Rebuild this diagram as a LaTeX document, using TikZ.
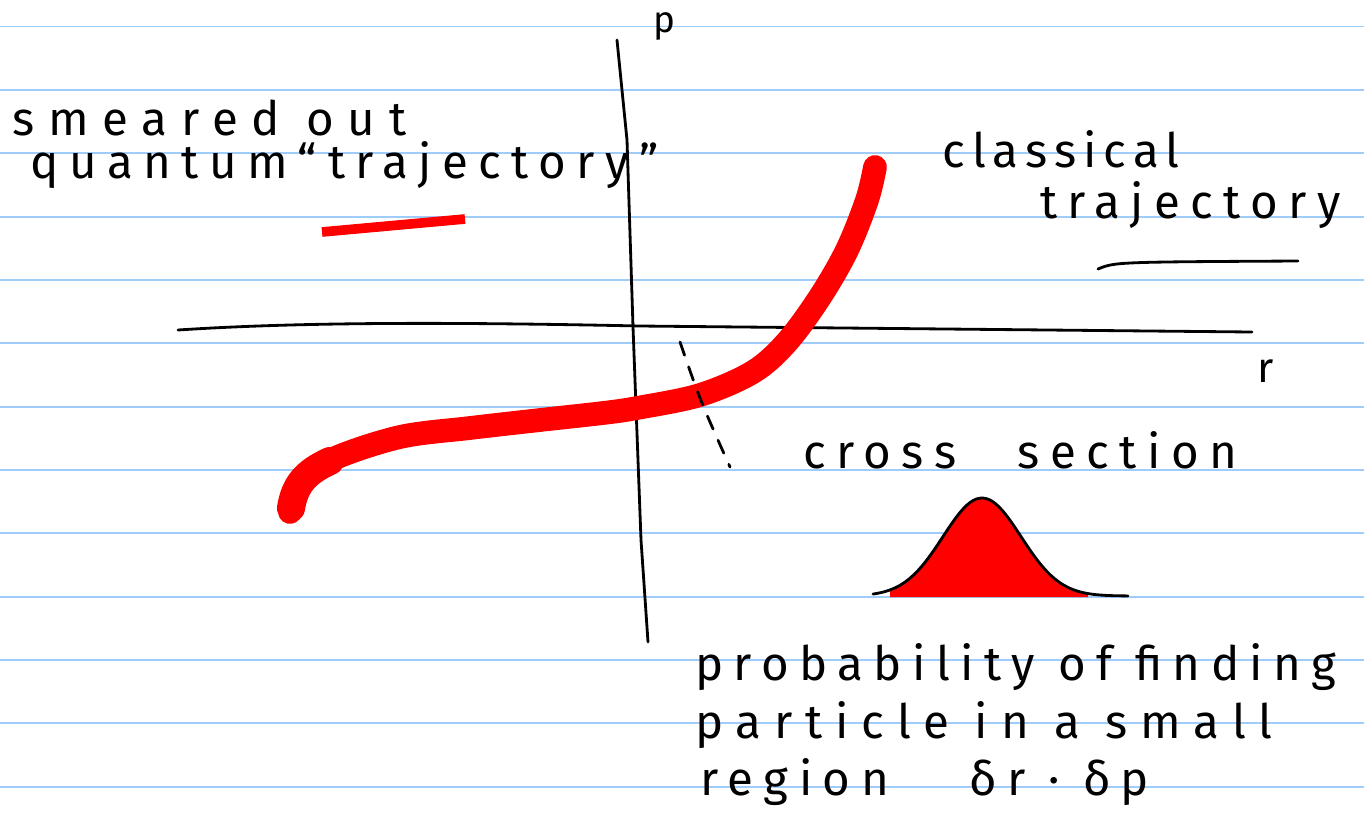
\documentclass[tikz,border=0pt]{standalone}
\usepackage{fontspec}
\setmainfont{Fira Sans}[LetterSpace=22]
\usepackage{tikz}
\usetikzlibrary{positioning}
\tikzset{
    ruling/.style = {draw={rgb,255:red,160;green,204;blue,250}, line width=1.1pt},
    pen/.style = {draw, line width=1.6pt, line cap=round, line join=round},
    smear/.style = {draw=red, line width=13.5pt, line cap=round, line join=round},
    note/.style = {font=\fontsize{27}{32}\selectfont, anchor=base west, inner sep=0pt},
}
\begin{document}
\begin{tikzpicture}[x=0.02cm, y=-0.02cm]
                \useasboundingbox (0,0) rectangle (1364,822);
                \foreach \k in {0,...,12}
                    \draw[ruling] (0,{26.5+63.35*\k}) -- (1364,{26.5+63.35*\k});

                \coordinate (ptop) at (617, 40);
                \coordinate (pbot) at (648, 642);
                \coordinate (rleft) at (178, 330);
                \coordinate (rright) at (1252, 332);
                \node[note, anchor=base, font=\fontsize{21}{24}\selectfont] (p) at (664, 32) {p};
                \node[note, anchor=base, font=\fontsize{24}{28}\selectfont] (r) at (1266, 382) {r};

                \draw[pen] (ptop) -- (627, 140) -- (633, 327) -- (641, 540) -- (pbot);
                \draw[pen] (rleft) .. controls (300, 322) and (450, 322) .. (640, 326) -- (rright);

                \coordinate (qstart) at (290, 512);
                \coordinate (qend) at (875, 167);
                \draw[smear] plot[smooth, tension=0.55] coordinates {(qstart) (302, 482) (333, 459) (400, 437)
                    (470, 428) (540, 420) (603, 413) (637, 408) (700, 395) (753, 372) (787, 342)
                    (820, 297) (847, 250) (867, 200) (qend)};
                \draw[smear, line width=16pt] (291, 508) .. controls (295, 484) and (306, 472) .. (330, 461);
                \draw[pen, dash pattern=on 8pt off 7pt] (680, 342) .. controls (700, 400) .. (730, 467);

                \node[note] (smeared) at (12, 135) {\addfontfeature{LetterSpace=29}smeared out};
                \node[note] (quantum) at (30, 178) {quantum``trajectory''};
                \coordinate (qkey1) at (322, 232);
                \coordinate (qkey2) at (465, 219);
                \draw[smear, line width=5.5pt, line cap=butt] (qkey1) -- (qkey2);

                \node[note] (classical) at (942, 167) {\addfontfeature{LetterSpace=15}classical};
                \node[note] (trajectory) at (1040, 218) {trajectory};
                \coordinate (ckey1) at (1098, 269);
                \coordinate (ckey2) at (1298, 261);
                \draw[pen] (ckey1) .. controls (1115, 262) .. (ckey2);

                \node[note] (cross) at (803, 468) {cross\hspace{1.3em}section};
                \fill[red] (890, 597) -- plot[domain=890:1088, samples=60]
                    (\x, {596-98*exp(-((\x-982)/39)*((\x-982)/39)/2)}) -- (1088, 597) -- cycle;
                \draw[pen] plot[domain=873:1128, samples=80]
                    (\x, {596-98*exp(-((\x-982)/39)*((\x-982)/39)/2)});

                \node[note] (prob1) at (695, 680) {probability of finding};
                \node[note] (prob2) at (695, 738) {\addfontfeature{LetterSpace=27}particle in a small};
                \node[note] (prob3) at (700, 795) {region\hspace{1.7em}δr · δp};
            \end{tikzpicture}
\end{document}
